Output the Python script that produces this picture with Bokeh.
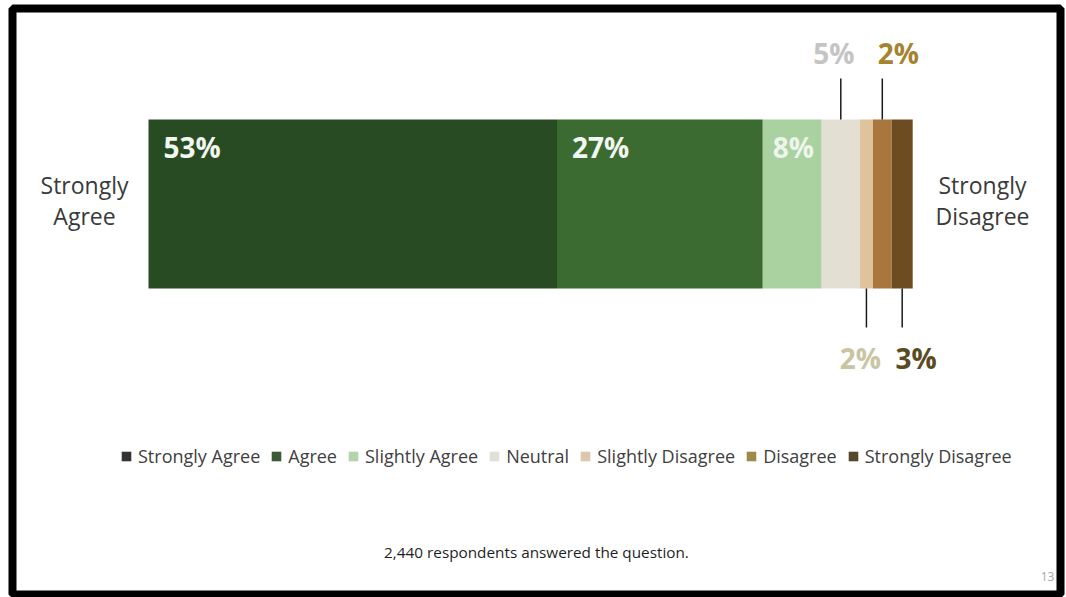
import numpy as np
from bokeh.plotting import figure
from bokeh.models import Range1d, ColumnDataSource, Legend, LegendItem
from bokeh.core.properties import value
from bokeh.embed import file_html
from bokeh.resources import INLINE

# ---- data ----
categories = ["Strongly Agree", "Agree", "Slightly Agree", "Neutral",
              "Slightly Disagree", "Disagree", "Strongly Disagree"]
values = [53.4, 26.9, 7.7, 5.0, 1.7, 2.45, 2.75]
bar_colors = ["#284b23", "#3c6b31", "#a9d2a0", "#e4dfd3",
              "#dfc39c", "#a9773d", "#6e4c22"]
legend_colors = ["#333333", "#3d5a37", "#b3d4ab", "#e2dfd6",
                 "#dcc6ad", "#9e8a48", "#56482b"]
label_colors = ["#f2f7f0", "#f2f7f0", "#eef5ec", "#c4c4c4",
                "#c9c4a2", "#a5832f", "#5a4b22"]
label_place = ["inside", "inside", "inside", "above", "below", "above", "below"]
label_dx = [15, 15, 10, -7, -6, 16, 14]
footer = "2,440 respondents answered the question."
page_no = "13"

FONT = "Open Sans"

# ---- layout ----
W, H = 1066, 597
ML, MR, MT, MB = 12, 6, 8, 3
FW = W - ML - MR
X0, X1 = -17.78, 119.22
def xp(px):
    return X0 + (px - ML) / FW * (X1 - X0)

BAR_Y, BAR_H = 203.5, 169
BAR_TOP, BAR_BOT = BAR_Y - BAR_H / 2, BAR_Y + BAR_H / 2

p = figure(width=W, height=H, output_backend="svg", toolbar_location=None,
           x_range=Range1d(X0, X1), y_range=Range1d(H - MB, MT),
           min_border_left=ML, min_border_right=MR, min_border_top=MT,
           min_border_bottom=MB)
p.axis.visible = False
p.grid.visible = False
p.outline_line_color = "black"
p.outline_line_width = 8
p.background_fill_color = "white"
p.border_fill_color = "white"

right = np.cumsum(values)
left = right - np.array(values)
center = (left + right) / 2
labels = [f"{v:.0f}%" for v in values]
src = ColumnDataSource(dict(cat=categories, left=left, right=right,
                            color=bar_colors, y=[BAR_Y] * len(values)))
p.hbar(y="y", left="left", right="right", height=BAR_H, fill_color="color",
       line_color=None, source=src)

# inside labels
ins = [i for i, pl in enumerate(label_place) if pl == "inside"]
p.text(x=[left[i] for i in ins], y=[146] * len(ins),
       text=[labels[i] for i in ins],
       x_offset=[label_dx[i] for i in ins],
       text_color=[label_colors[i] for i in ins],
       text_font=value(FONT), text_font_style="bold", text_font_size="28px",
       text_align="left", text_baseline="middle")

for place, ty, ly0, ly1 in [("above", 52, 78, BAR_TOP), ("below", 357, BAR_BOT, 327)]:
    idx = [i for i, pl in enumerate(label_place) if pl == place]
    p.segment(x0=[center[i] for i in idx], x1=[center[i] for i in idx],
              y0=[ly0] * len(idx), y1=[ly1] * len(idx),
              line_color="#1a1a1a", line_width=1.5)
    p.text(x=[center[i] for i in idx], y=[ty] * len(idx),
           text=[labels[i] for i in idx],
           x_offset=[label_dx[i] for i in idx],
           text_color=[label_colors[i] for i in idx],
           text_font=value(FONT), text_font_style="bold", text_font_size="28px",
           text_align="center", text_baseline="middle")

# end labels
p.text(x=[xp(84), xp(982)], y=[200, 200],
       text=["Strongly\nAgree", "Strongly\nDisagree"],
       text_color="#3a3a3a", text_font=value(FONT), text_font_size="23px",
       text_align="center", text_baseline="middle", text_line_height=0.96)

# footer
p.text(x=[xp(536)], y=[551], text=[footer], text_color="#1e1e1e",
       text_font=value(FONT), text_font_size="15.3px",
       text_align="center", text_baseline="middle")
p.text(x=[xp(1047)], y=[576], text=[page_no], text_color="#a8a8a8",
       text_font=value(FONT), text_font_size="12px",
       text_align="center", text_baseline="middle")

# legend
items = []
nan = float("nan")
for cat, col in zip(categories, legend_colors):
    r = p.quad(left=[nan], right=[nan], top=[nan], bottom=[nan],
               fill_color=col, line_color=None)
    items.append(LegendItem(label=cat, renderers=[r], index=0))
legend = Legend(items=items, orientation="horizontal", location=(108, 126),
                glyph_width=12, glyph_height=12, label_standoff=6, spacing=10,
                padding=0, margin=0, border_line_color=None,
                background_fill_alpha=0, label_text_font=FONT,
                label_text_font_size="18px", label_text_color="#404040")
p.add_layout(legend)

open("out.html", "w").write(file_html(p, INLINE))
